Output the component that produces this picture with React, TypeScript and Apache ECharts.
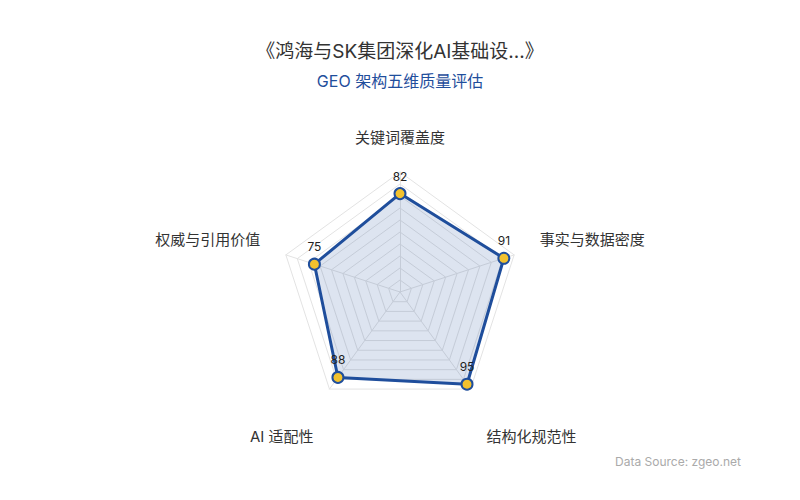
import { useEffect, useRef } from "react";
import * as echarts from "echarts";

// radar indicators run counter-clockwise from the top
const indicatorNames = ["关键词覆盖度", "权威与引用价值", "AI 适配性", "结构化规范性", "事实与数据密度"];
const indicatorMax = [100, 100, 100, 100, 100];
const scores = [82, 75, 88, 95, 91];

const titleText = "《鸿海与SK集团深化AI基础设...》";
const subTitleText = "GEO 架构五维质量评估";
const sourceText = "Data Source: zgeo.net";

const FONT = "Inter, 'Noto Sans CJK SC', sans-serif";

export default function App() {
  const chartRef = useRef<HTMLDivElement>(null);

  useEffect(() => {
    document.body.style.margin = "0";
    if (!chartRef.current) return;
    const chart = echarts.init(chartRef.current, undefined, { renderer: "svg" });

    const nameStyle = { color: "#333", fontSize: 15, fontFamily: FONT };

    const option = {
      animation: false,
      textStyle: { fontFamily: FONT },
      title: {
        text: titleText,
        subtext: subTitleText,
        left: "center",
        top: 37,
        itemGap: 12,
        textStyle: { fontSize: 19, fontWeight: "normal", color: "#333", fontFamily: FONT },
        subtextStyle: { fontSize: 16, color: "#1f4e9c", fontFamily: FONT },
      },
      radar: {
        center: [400, 292],
        radius: 120,
        startAngle: 90,
        splitNumber: 10,
        nameGap: 27,
        indicator: indicatorNames.map((name, i) => ({ name, max: indicatorMax[i] })),
        axisName: {
          ...nameStyle,
          formatter: (name: string) => {
            const i = indicatorNames.indexOf(name);
            if (i === 0) return `{t|${name}}`;
            if (i === 2 || i === 3) return `{b|${name}}`;
            return `{s|${name}}`;
          },
          rich: {
            t: { ...nameStyle },
            s: { ...nameStyle, padding: [0, 0, 15, 0] },
            b: { ...nameStyle, padding: [52, 0, 0, 0] },
          },
        },
        axisLine: { lineStyle: { color: "#e3e3e3" } },
        splitLine: { lineStyle: { color: "#e3e3e3" } },
        splitArea: { show: false },
      },
      series: [
        {
          type: "radar",
          symbol: "circle",
          symbolSize: 11,
          data: [
            {
              value: scores,
              name: "GEO",
              label: {
                show: true,
                position: "top",
                distance: 5,
                color: "#222",
                fontSize: 12,
                fontFamily: FONT,
              },
            },
          ],
          itemStyle: { color: "#f2c12e", borderColor: "#1f4e9c", borderWidth: 2 },
          lineStyle: { color: "#1f4e9c", width: 3 },
          areaStyle: { color: "rgba(31, 78, 156, 0.22)" },
        },
      ],
      graphic: [
        {
          type: "text",
          right: 59,
          top: 455,
          style: { text: sourceText, fill: "#aaa", fontSize: 12, fontFamily: FONT },
        },
      ],
    };

    chart.setOption(option);

    return () => {
      chart.dispose();
    };
  }, []);

  return <div ref={chartRef} style={{ width: 800, height: 500 }} />;
}
